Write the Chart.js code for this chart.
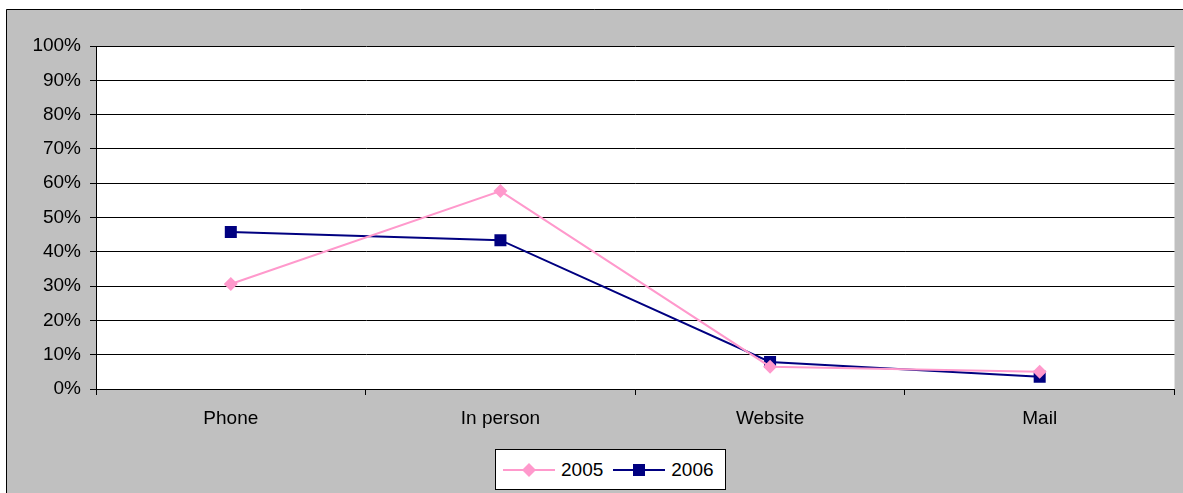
<!DOCTYPE html>
<html>
<head>
<meta charset="utf-8">
<script src="https://cdn.jsdelivr.net/npm/chart.js@4/dist/chart.umd.min.js"></script>
<style>
html,body{margin:0;padding:0;background:#fff;}
#wrap{position:relative;width:1183px;height:493px;overflow:hidden;}
#c{position:absolute;left:0;top:0;}
#legend{position:absolute;left:495px;top:449px;width:231px;height:41px;background:#fff;border:1px solid #000;
  font-family:"Liberation Sans",Arial,sans-serif;font-size:19px;color:#000;display:flex;align-items:center;box-sizing:border-box;padding-left:7px;}
.item{display:flex;align-items:center;margin-right:10px;}
.item svg{margin-right:6px;}
</style>
</head>
<body>
<div id="wrap">
<canvas id="c" width="1183" height="493"></canvas>
<div id="legend"></div>
</div>
<script>
const categories = ["Phone", "In person", "Website", "Mail"];
const series2005 = [0.306, 0.577, 0.065, 0.050];
const series2006 = [0.458, 0.434, 0.079, 0.036];
const seriesNames = ["2005", "2006"];
const yTicks = [0, 0.1, 0.2, 0.3, 0.4, 0.5, 0.6, 0.7, 0.8, 0.9, 1.0];

const FONT = '"Liberation Sans", Arial, sans-serif';

const bgPlugin = {
  id: 'bg',
  beforeDraw(chart) {
    const ctx = chart.ctx;
    ctx.save();
    ctx.fillStyle = '#fff';
    ctx.fillRect(0, 0, chart.width, chart.height);
    ctx.fillStyle = '#c0c0c0';
    ctx.fillRect(6, 9, chart.width, chart.height);
    ctx.strokeStyle = '#000';
    ctx.lineWidth = 1;
    ctx.beginPath();
    ctx.moveTo(6.5, chart.height);
    ctx.lineTo(6.5, 9.5);
    ctx.lineTo(chart.width, 9.5);
    ctx.stroke();
    const a = chart.chartArea;
    ctx.fillStyle = '#fff';
    ctx.fillRect(a.left, a.top, a.right - a.left, a.bottom - a.top);
    ctx.restore();
  }
};

const chart = new Chart(document.getElementById('c'), {
  type: 'line',
  data: {
    labels: categories,
    datasets: [
      {
        label: seriesNames[0],
        data: series2005,
        borderColor: '#ff99cc',
        backgroundColor: '#ff99cc',
        borderWidth: 2,
        pointStyle: 'rectRot',
        pointRadius: 7,
        pointHoverRadius: 7,
        pointBorderWidth: 0,
        tension: 0
      },
      {
        label: seriesNames[1],
        data: series2006,
        borderColor: '#000080',
        backgroundColor: '#000080',
        borderWidth: 2,
        pointStyle: 'rect',
        pointRadius: 8.5,
        pointHoverRadius: 8.5,
        pointBorderWidth: 0,
        tension: 0
      }
    ]
  },
  options: {
    responsive: false,
    animation: false,
    devicePixelRatio: 1,
    layout: { padding: { left: 0, top: 46, right: 8, bottom: 0 } },
    plugins: { legend: { display: false }, tooltip: { enabled: false } },
    scales: {
      x: {
        offset: true,
        grid: { display: true, offset: true, drawOnChartArea: false, drawTicks: true, tickLength: 6, color: '#000' },
        border: { display: true, color: '#000', width: 1 },
        ticks: { color: '#000', font: { family: FONT, size: 19 }, padding: 12, maxRotation: 0 },
        afterFit(scale) { scale.height = 104; }
      },
      y: {
        min: 0,
        max: 1,
        afterBuildTicks(scale) { scale.ticks = yTicks.map(v => ({ value: v })); },
        grid: { color: '#000', lineWidth: 1, drawTicks: true, tickLength: 6 },
        border: { display: true, color: '#000', width: 1 },
        ticks: {
          color: '#000',
          font: { family: FONT, size: 19 },
          padding: 9,
          callback: v => Math.round(v * 100) + '%'
        },
        afterFit(scale) { scale.width = 96; }
      }
    }
  },
  plugins: [bgPlugin]
});

// HTML legend built from datasets
const legend = document.getElementById('legend');
chart.data.datasets.forEach(ds => {
  const item = document.createElement('div');
  item.className = 'item';
  const svgNS = 'http://www.w3.org/2000/svg';
  const svg = document.createElementNS(svgNS, 'svg');
  svg.setAttribute('width', '52'); svg.setAttribute('height', '16');
  const line = document.createElementNS(svgNS, 'line');
  line.setAttribute('x1', '0'); line.setAttribute('x2', '52');
  line.setAttribute('y1', '8'); line.setAttribute('y2', '8');
  line.setAttribute('stroke', ds.borderColor); line.setAttribute('stroke-width', '2');
  svg.appendChild(line);
  let m;
  if (ds.pointStyle === 'rectRot') {
    m = document.createElementNS(svgNS, 'polygon');
    m.setAttribute('points', '26,1 33,8 26,15 19,8');
  } else {
    m = document.createElementNS(svgNS, 'rect');
    m.setAttribute('x', '20'); m.setAttribute('y', '2');
    m.setAttribute('width', '12'); m.setAttribute('height', '12');
  }
  m.setAttribute('fill', ds.backgroundColor);
  svg.appendChild(m);
  item.appendChild(svg);
  const t = document.createElement('span');
  t.textContent = ds.label;
  item.appendChild(t);
  legend.appendChild(item);
});
</script>
</body>
</html>
